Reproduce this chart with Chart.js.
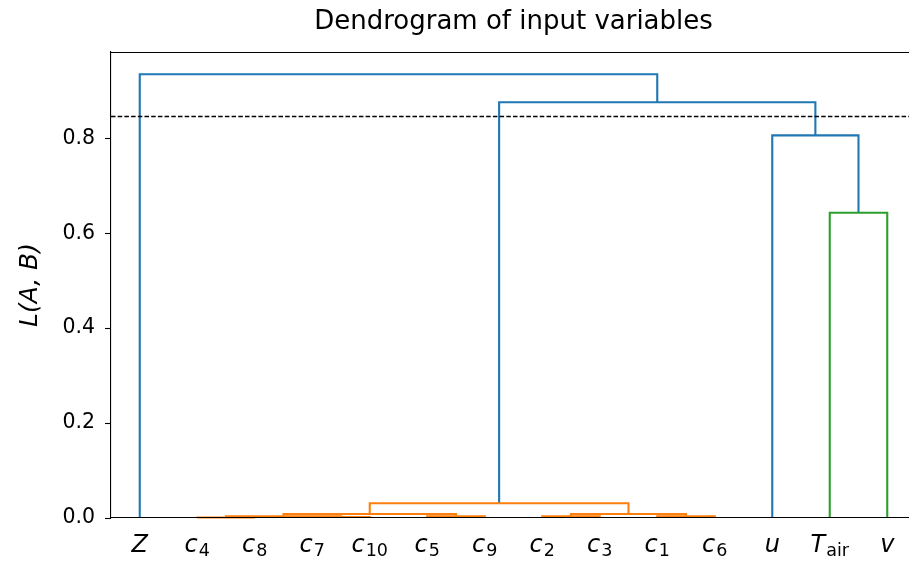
<!DOCTYPE html>
<html>
<head>
<meta charset="utf-8">
<script src="https://cdn.jsdelivr.net/npm/chart.js@4.4.1/dist/chart.umd.min.js"></script>
<style>
  html, body { margin: 0; padding: 0; overflow: hidden; background: #ffffff; }
  canvas { display: block; }
</style>
</head>
<body>
<canvas id="chart" width="930" height="562"></canvas>
<script>
// Leaf order along the x axis (main symbol + subscript)
const leafNames = ['Z', 'c', 'c', 'c', 'c', 'c', 'c', 'c', 'c', 'c', 'c', 'u', 'T', 'v'];
const leafSubs  = ['',  '4', '8', '7', '10', '5', '9', '2', '3', '1', '6', '',  'air', ''];

// Linkage: each merge joins two nodes (leaves 0-13, merged clusters 14+)
const mergeLeft   = [1, 3, 14, 5, 16, 7, 9, 19, 18, 12, 11, 22, 0];
const mergeRight  = [2, 4, 15, 6, 17, 8, 10, 20, 21, 13, 23, 24, 25];
const mergeHeight = [0.0012, 0.0022, 0.0034, 0.0034, 0.0084, 0.0036, 0.0036, 0.0084, 0.031, 0.643, 0.806, 0.876, 0.935];
const mergeColour = ['C1', 'C1', 'C1', 'C1', 'C1', 'C1', 'C1', 'C1', 'C1', 'C2', 'C0', 'C0', 'C0'];

const cutHeight = 0.846;
const yTicks = [0.0, 0.2, 0.4, 0.6, 0.8];

const palette = { C0: '#1f77b4', C1: '#ff7f0e', C2: '#2ca02c' };

// Node positions: leaves at 5, 15, 25, ...; clusters at the midpoint of their children
const nodeX = leafNames.map((_, i) => 5 + 10 * i);
const nodeY = leafNames.map(() => 0);
mergeLeft.forEach((l, k) => {
  const r = mergeRight[k];
  nodeX.push((nodeX[l] + nodeX[r]) / 2);
  nodeY.push(mergeHeight[k]);
});

const xMax = 10 * leafNames.length;
const yMax = Math.max(...mergeHeight) * 1.05;

const datasets = mergeLeft.map((l, k) => {
  const r = mergeRight[k];
  const h = mergeHeight[k];
  return {
    data: [
      { x: nodeX[l], y: nodeY[l] },
      { x: nodeX[l], y: h },
      { x: nodeX[r], y: h },
      { x: nodeX[r], y: nodeY[r] }
    ],
    borderColor: palette[mergeColour[k]],
    borderWidth: 2.1,
    showLine: true,
    pointRadius: 0,
    tension: 0,
    clip: false,
    order: 1
  };
});

// Dashed cut-off line
datasets.push({
  data: [{ x: 0, y: cutHeight }, { x: xMax, y: cutHeight }],
  borderColor: '#000000',
  borderWidth: 1.4,
  borderDash: [4.5, 2.2],
  showLine: true,
  pointRadius: 0,
  clip: false,
  order: 0
});

const textPlugin = {
  id: 'dendroText',
  afterDraw(chart) {
    const { ctx, chartArea, scales } = chart;
    ctx.save();

    // top spine
    ctx.strokeStyle = '#000';
    ctx.lineWidth = 1.1;
    ctx.beginPath();
    ctx.moveTo(chartArea.left, chartArea.top + 0.5);
    ctx.lineTo(chartArea.right, chartArea.top + 0.5);
    ctx.stroke();

    // x tick labels with subscripts
    const mainFont = 'italic 24px "DejaVu Sans"';
    const subFont = '17.5px "DejaVu Sans"';
    ctx.fillStyle = '#000';
    ctx.textBaseline = 'alphabetic';
    ctx.textAlign = 'left';
    const baseY = chartArea.bottom + 34;
    leafNames.forEach((name, i) => {
      ctx.font = mainFont;
      const w1 = ctx.measureText(name).width;
      ctx.font = subFont;
      const sub = leafSubs[i];
      const w2 = sub ? ctx.measureText(sub).width + 1 : 0;
      const cx = scales.x.getPixelForValue(nodeX[i]);
      const x0 = cx - (w1 + w2) / 2;
      ctx.font = mainFont;
      ctx.fillText(name, x0, baseY);
      if (sub) {
        ctx.font = subFont;
        ctx.fillText(sub, x0 + w1 + 1, baseY + 4);
      }
    });

    // title
    ctx.font = '26px "DejaVu Sans"';
    ctx.textAlign = 'center';
    ctx.fillText('Dendrogram of input variables', (chartArea.left + chartArea.right) / 2, 29);

    // y axis label
    ctx.translate(30, (chartArea.top + chartArea.bottom) / 2);
    ctx.rotate(-Math.PI / 2);
    ctx.font = 'italic 25px "DejaVu Sans"';
    ctx.textBaseline = 'middle';
    ctx.fillText('L(A, B)', 0, 0);

    ctx.restore();
  }
};

new Chart(document.getElementById('chart'), {
  type: 'scatter',
  data: { datasets },
  options: {
    responsive: false,
    animation: false,
    devicePixelRatio: 1,
    layout: { padding: { left: 0, right: 14, top: 52, bottom: 44 } },
    plugins: { legend: { display: false }, tooltip: { enabled: false } },
    scales: {
      x: {
        type: 'linear',
        min: 0,
        max: xMax,
        ticks: { display: false },
        grid: { display: false, drawTicks: false },
        border: { display: true, color: '#000', width: 1.1, z: 1 },
        afterFit(scale) { scale.height = 0; }
      },
      y: {
        type: 'linear',
        min: 0,
        max: yMax,
        afterBuildTicks(scale) { scale.ticks = yTicks.map(v => ({ value: v })); },
        ticks: {
          color: '#000',
          padding: 10,
          font: { family: 'DejaVu Sans', size: 20.5 },
          callback: v => v.toFixed(1)
        },
        grid: { drawOnChartArea: false, drawTicks: true, tickLength: 6, tickColor: '#000', tickWidth: 1.1 },
        border: { display: true, color: '#000', width: 1.1, z: 1 },
        afterFit(scale) { scale.width = 111; }
      }
    }
  },
  plugins: [textPlugin]
});
</script>
</body>
</html>
